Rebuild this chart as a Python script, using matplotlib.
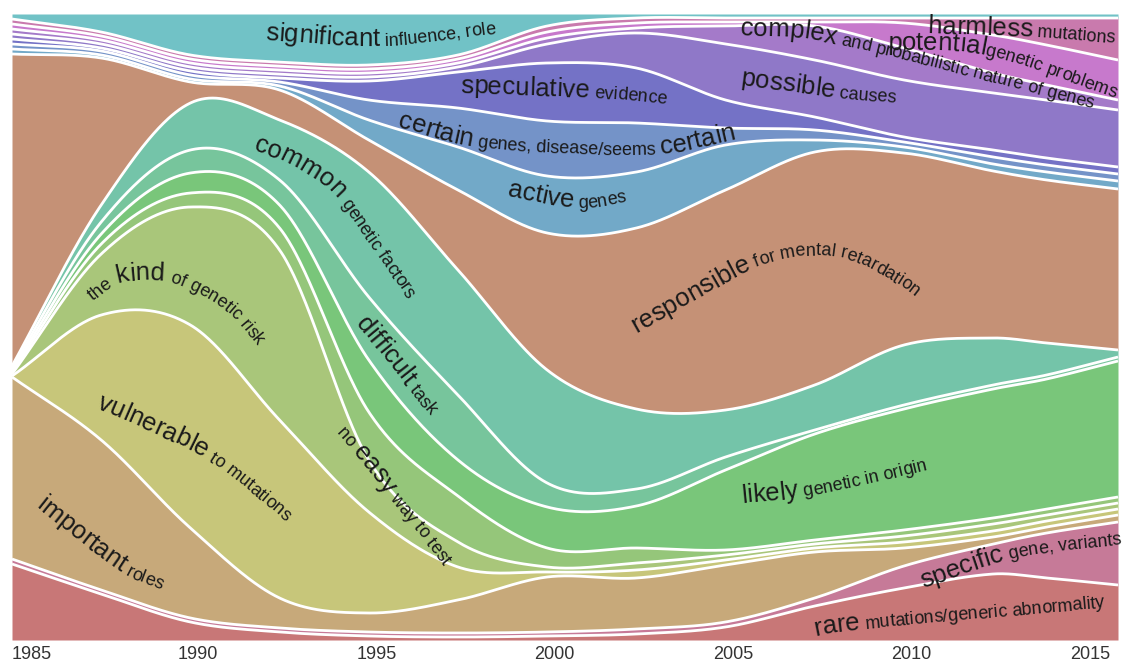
import numpy as np
import matplotlib
matplotlib.use('Agg')
import matplotlib.pyplot as plt
from matplotlib import font_manager, ft2font
from matplotlib.transforms import ScaledTranslation

FONT = 'Liberation Sans'
plt.rcParams['font.family'] = [FONT, 'DejaVu Sans']

# sample years and band thickness per layer
years = [1985, 1987.5, 1990, 1992.5, 1995, 1997.5, 2000, 2002.5, 2005, 2007.5, 2010, 2012.5, 2014, 2016]

rare        = [76, 46, 18, 8, 4, 3, 4, 6, 13, 34, 52, 66, 62, 55]
specific    = [5, 4, 4, 4, 4, 4, 4, 5, 5, 8, 22, 30, 45, 63]
important   = [182, 150, 90, 30, 19, 33, 55, 51, 57, 46, 18, 7, 6, 7]
vulnerable  = [1, 125, 203, 178, 101, 33, 5, 8, 5, 4, 6, 6, 6, 6]
kind        = [2, 61, 118, 170, 52, 25, 5, 7, 5, 4, 6, 7, 6, 6]
easy        = [2, 10, 14, 22, 48, 46, 19, 15, 5, 4, 6, 6, 6, 6]
likely      = [2, 10, 20, 23, 52, 36, 41, 42, 80, 106, 121, 129, 130, 136]
difficult   = [2, 12, 23, 25, 63, 65, 24, 17, 13, 4, 4, 4, 4, 4]
common      = [2, 17, 47, 60, 125, 125, 113, 80, 47, 45, 60, 47, 32, 7]
responsible = [312, 147, 21, 30, 32, 80, 137, 181, 220, 233, 192, 167, 163, 161]
active      = [5, 3, 3, 4, 20, 43, 57, 56, 45, 12, 6, 7, 8, 8]
certain     = [5, 4, 4, 4, 20, 39, 55, 49, 17, 10, 5, 7, 7, 7]
speculative = [5, 3, 4, 4, 19, 36, 58, 55, 28, 13, 5, 7, 7, 7]
possible    = [5, 4, 4, 4, 4, 5, 19, 35, 56, 57, 57, 57, 58, 57]
complex_    = [5, 4, 4, 4, 4, 4, 6, 5, 18, 34, 32, 20, 15, 10]
potential   = [5, 4, 4, 4, 4, 4, 6, 5, 4, 4, 25, 38, 40, 40]
harmless    = [5, 4, 4, 4, 4, 4, 6, 5, 4, 4, 5, 17, 27, 42]
significant = [5, 18, 41, 48, 51, 41, 12, 4, 4, 4, 4, 4, 4, 4]

layers = [rare, specific, important, vulnerable, kind, easy, likely, difficult,
          common, responsible, active, certain, speculative, possible,
          complex_, potential, harmless, significant]
colors = ['#c87777', '#c67a98', '#c7a97a', '#c7c67a', '#a9c67a', '#95c67a',
          '#79c67a', '#77c59c', '#74c4a9', '#c59176', '#72a9c8', '#7493c8',
          '#7472c6', '#8f78c8', '#a47ac9', '#c779cc', '#c97aad', '#71c2c6']

tick_years = [1985, 1990, 1995, 2000, 2005, 2010, 2015]

TXT = '#1a1a1a'
BIG, SMALL = 18.5, 13

labels = [
    ([("significant", BIG), (" influence, role", SMALL)],
     [(1992.09, 95.85), (1995.37, 94.89), (1998.68, 96.96)]),
    ([("speculative", BIG), (" evidence", SMALL)],
     [(1997.56, 87.38), (2001.34, 86.58), (2003.44, 85.62)]),
    ([("certain", BIG), (" genes, disease/seems ", SMALL), ("certain", BIG)],
     [(1995.79, 81.95), (1997.84, 78.91), (2000.36, 77.8), (2003.16, 77.64), (2005.40, 80.19)]),
    ([("active", BIG), (" genes", SMALL)],
     [(1998.87, 70.93), (2000.78, 69.01), (2002.24, 69.97)]),
    ([("complex", BIG), (" and probabilistic nature of genes", SMALL)],
     [(2005.40, 96.65), (2008.21, 95.05), (2015.49, 84.66)]),
    ([("possible", BIG), (" causes", SMALL)],
     [(2005.40, 88.66), (2008.21, 86.58), (2009.81, 85.78)]),
    ([("potential", BIG), ("genetic problems", SMALL)],
     [(2009.53, 94.25), (2012.28, 93.45), (2015.84, 86.74)]),
    ([("harmless", BIG), (" mutations", SMALL)],
     [(2010.65, 96.96), (2013.53, 96.33), (2015.92, 95.37)]),
    ([("common", BIG), (" genetic factors", SMALL)],
     [(1991.75, 78.27), (1992.85, 75.72), (1993.94, 71.41), (1994.81, 64.7), (1995.73, 57.19)]),
    ([("the ", SMALL), ("kind", BIG), (" of genetic risk", SMALL)],
     [(1987.27, 54.15), (1987.94, 56.87), (1988.73, 57.51), (1989.43, 57.19),
      (1990.27, 55.11), (1991.11, 51.92), (1991.95, 46.33)]),
    ([("vulnerable", BIG), (" to mutations", SMALL)],
     [(1987.35, 37.06), (1988.87, 33.23), (1990.38, 29.07), (1991.53, 24.28), (1992.6, 19.17)]),
    ([("important", BIG), (" roles", SMALL)],
     [(1985.64, 21.25), (1986.85, 15.81), (1988.08, 10.7), (1989.04, 8.31)]),
    ([("difficult", BIG), (" task", SMALL)],
     [(1994.61, 50.48), (1995.37, 45.21), (1996.15, 39.62), (1996.77, 35.3)]),
    ([("no ", SMALL), ("easy", BIG), (" way to test", SMALL)],
     [(1994.08, 33.07), (1994.47, 30.51), (1995.48, 23.32), (1996.29, 17.57), (1997.11, 11.5)]),
    ([("responsible", BIG), (" for mental retardation", SMALL)],
     [(2002.49, 49.04), (2004.28, 54.79), (2005.74, 59.27), (2007.09, 61.34),
      (2008.49, 60.7), (2009.89, 56.5), (2010.9, 52.0)]),
    ([("likely", BIG), (" genetic in origin", SMALL)],
     [(2005.46, 21.88), (2007.09, 22.84), (2009.05, 25.08), (2010.73, 27.32)]),
    ([("specific", BIG), (" gene, variants", SMALL)],
     [(2010.53, 8.31), (2012.78, 12.62), (2014.38, 14.22), (2015.97, 15.18)]),
    ([("rare", BIG), (" mutations/generic abnormality", SMALL)],
     [(2007.51, 0.64), (2008.82, 1.76), (2015.77, 5.27)]),
]


def smooth(x, y, xs):
    # cubic Hermite with centred slopes (Catmull-Rom style) for soft bends
    x = np.asarray(x, float)
    y = np.asarray(y, float)
    h = np.diff(x)
    m = np.empty_like(y)
    m[1:-1] = (y[2:] - y[:-2]) / (x[2:] - x[:-2])
    m[0] = (y[1] - y[0]) / h[0]
    m[-1] = (y[-1] - y[-2]) / h[-1]
    i = np.clip(np.searchsorted(x, xs) - 1, 0, len(h) - 1)
    t = (xs - x[i]) / h[i]
    return ((2 * t**3 - 3 * t**2 + 1) * y[i] + (t**3 - 2 * t**2 + t) * h[i] * m[i]
            + (-2 * t**3 + 3 * t**2) * y[i + 1] + (t**3 - t**2) * h[i] * m[i + 1])


xs = np.linspace(years[0], years[-1], 900)
vals = np.clip(np.array([smooth(years, v, xs) for v in layers]), 0.6, None)
shares = vals / vals.sum(axis=0) * 100
tops = np.cumsum(shares, axis=0)
bottoms = tops - shares

fig = plt.figure(figsize=(11.26, 6.64), dpi=100)
ax = fig.add_axes([12 / 1126, 24 / 664, 1106 / 1126, 626 / 664])

for i, c in enumerate(colors):
    ax.fill_between(xs, bottoms[i], tops[i], color=c, lw=0, zorder=1)
for i in range(len(layers) - 1):
    ax.plot(xs, tops[i], color='white', lw=2.0, zorder=2, solid_capstyle='butt')

ax.set_xlim(years[0], years[-1])
ax.set_ylim(0, 100)
for s in ax.spines.values():
    s.set_visible(False)
ax.set_yticks([])
ax.set_xticks(tick_years)
ax.set_xticklabels([str(y) for y in tick_years])
ax.tick_params(axis='x', length=0, pad=4, labelsize=13, labelcolor='#333333')
tl = ax.get_xticklabels()
tl[0].set_ha('left')
for lab in tl[1:]:
    lab.set_transform(lab.get_transform() + ScaledTranslation(5.5 / 72, 0, fig.dpi_scale_trans))

# text along curved paths, one glyph at a time
renderer = fig.canvas.get_renderer()
ft = ft2font.FT2Font(font_manager.findfont(font_manager.FontProperties(family=FONT)))
_scale = {}


def raw_adv(ch, size):
    ft.set_size(size, fig.dpi)
    return ft.load_char(ord(ch)).linearHoriAdvance


def advance(ch, size):
    # glyph advance in pixels, calibrated against the renderer
    if size not in _scale:
        fp = font_manager.FontProperties(family=FONT, size=size)
        w10 = renderer.get_text_width_height_descent('M' * 10, fp, ismath=False)[0]
        w1 = renderer.get_text_width_height_descent('M', fp, ismath=False)[0]
        _scale[size] = (w10 - w1) / (9 * raw_adv('M', size))
    return raw_adv(ch, size) * _scale[size]


def catmull(P, n=40):
    P = np.vstack([2 * P[0] - P[1], P, 2 * P[-1] - P[-2]])
    out = []
    t = np.linspace(0, 1, n, endpoint=False)[:, None]
    for k in range(1, len(P) - 2):
        p0, p1, p2, p3 = P[k - 1], P[k], P[k + 1], P[k + 2]
        out.append(0.5 * (2 * p1 + (-p0 + p2) * t + (2 * p0 - 5 * p1 + 4 * p2 - p3) * t**2
                          + (-p0 + 3 * p1 - 3 * p2 + p3) * t**3))
    out.append(P[-2][None])
    return np.vstack(out)


def text_along(pieces, pts):
    C = catmull(ax.transData.transform(np.asarray(pts, float)))
    seg = np.diff(C, axis=0)
    L = np.maximum(np.hypot(seg[:, 0], seg[:, 1]), 1e-9)
    s = np.concatenate([[0], np.cumsum(L)])
    inv = ax.transData.inverted()

    def at(dist):
        if dist <= s[-1]:
            k = int(np.clip(np.searchsorted(s, dist, side='right') - 1, 0, len(seg) - 1))
            tan = seg[k] / L[k]
            p = C[k] + tan * (dist - s[k])
        else:
            tan = seg[-1] / L[-1]
            p = C[-1] + tan * (dist - s[-1])
        return p, tan

    dist = 0.0
    for txt, size in pieces:
        for ch in txt:
            w = advance(ch, size)
            p, tan = at(dist + w / 2)
            if ch != ' ':
                x0, y0 = inv.transform(p - tan * w / 2)
                ax.text(x0, y0, ch, fontsize=size, color=TXT,
                        rotation=np.degrees(np.arctan2(tan[1], tan[0])),
                        rotation_mode='anchor', ha='left', va='baseline',
                        clip_on=False, zorder=5)
            dist += w


for pieces, pts in labels:
    text_along(pieces, pts)

fig.savefig('out.png', dpi=100, facecolor='white')
